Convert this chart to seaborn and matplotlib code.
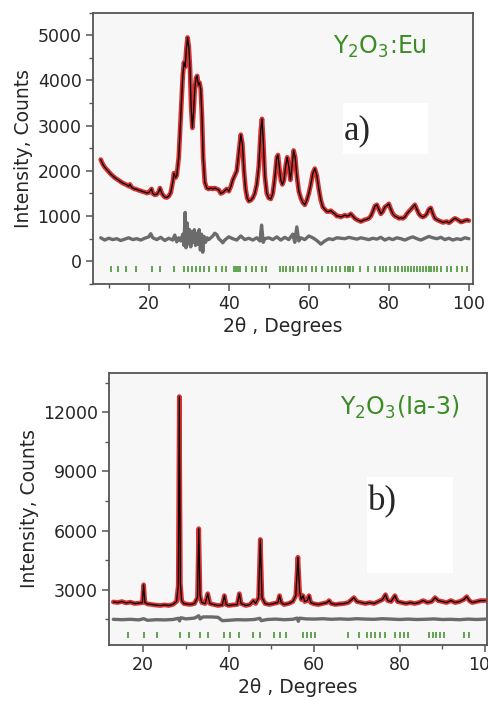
import numpy as np
import matplotlib
matplotlib.use("Agg")
import matplotlib.pyplot as plt
import seaborn as sns
from matplotlib.patches import Rectangle
from matplotlib.ticker import MultipleLocator

# panel a) Y2O3:Eu  - observed / calculated profile (read off the picture)
a_tth = [8.0, 8.5, 9.0, 9.5, 10.0, 10.5, 11.0, 11.5, 12.0, 12.5, 13.0, 13.5, 14.0, 14.5,
         15.0, 15.3, 15.7, 16.0, 16.5, 17.0, 17.5, 18.0, 18.5, 19.0, 19.5, 20.0, 20.7, 21.0,
         21.5, 22.0, 22.5, 22.8, 23.2, 23.5, 24.0, 24.5, 25.0, 25.5, 26.0, 26.3, 26.7, 27.0,
         27.5, 28.0, 28.5, 28.8, 29.1, 29.4, 29.7, 30.0, 30.3, 30.6, 30.9, 31.2, 31.5, 31.8,
         32.1, 32.4, 32.7, 33.0, 33.3, 33.6, 34.0, 34.5, 35.0, 35.5, 36.0, 36.5, 37.0, 37.5,
         38.0, 38.5, 39.0, 39.5, 40.0, 40.5, 41.0, 41.5, 42.0, 42.5, 43.0, 43.4, 43.8, 44.2,
         44.6, 45.0, 45.5, 46.0, 46.5, 47.0, 47.5, 48.0, 48.3, 48.6, 49.0, 49.5, 50.0, 50.5,
         51.0, 51.5, 52.0, 52.3, 52.6, 53.0, 53.4, 53.8, 54.2, 54.6, 55.0, 55.4, 55.8, 56.2,
         56.6, 57.0, 57.5, 58.0, 58.5, 59.0, 59.5, 60.0, 60.5, 61.0, 61.5, 62.0, 62.5, 63.0,
         63.5, 64.0, 64.5, 65.0, 65.5, 66.0, 66.5, 67.0, 67.5, 68.0, 68.5, 69.0, 69.5, 70.0,
         70.5, 71.0, 71.5, 72.0, 72.5, 73.0, 73.5, 74.0, 74.5, 75.0, 75.5, 76.0, 76.5, 77.0,
         77.5, 78.0, 78.5, 79.0, 79.5, 80.0, 80.5, 81.0, 81.5, 82.0, 82.5, 83.0, 83.5, 84.0,
         84.5, 85.0, 85.5, 86.0, 86.5, 87.0, 87.5, 88.0, 88.5, 89.0, 89.5, 90.0, 90.5, 91.0,
         91.5, 92.0, 92.5, 93.0, 93.5, 94.0, 94.5, 95.0, 95.5, 96.0, 96.5, 97.0, 97.5, 98.0,
         98.5, 99.0, 99.5, 100.0]
a_int = [2250, 2150, 2080, 2030, 1980, 1930, 1890, 1850, 1820, 1790, 1760, 1730, 1710, 1690,
         1660, 1700, 1640, 1620, 1600, 1590, 1570, 1560, 1540, 1530, 1510, 1520, 1600, 1500,
         1470, 1480, 1540, 1620, 1520, 1470, 1420, 1410, 1440, 1520, 1750, 1950, 1850, 1900,
         2300, 3200, 4100, 4400, 4300, 4700, 4950, 4750, 4300, 3400, 2950, 3300, 3800, 4050,
         4100, 3900, 3950, 3800, 3200, 2300, 1750, 1620, 1600, 1620, 1600, 1620, 1600, 1580,
         1500, 1520, 1560, 1600, 1550, 1650, 1800, 1900, 2000, 2400, 2800, 2600, 2000, 1600,
         1400, 1330, 1350, 1400, 1500, 1700, 2100, 2900, 3150, 2700, 1900, 1500, 1400, 1380,
         1500, 1850, 2300, 2350, 2100, 1800, 1700, 1800, 2100, 2300, 2100, 1800, 2100, 2450,
         2300, 1900, 1550, 1400, 1300, 1250, 1350, 1500, 1700, 1950, 2050, 1900, 1600, 1350,
         1200, 1150, 1100, 1100, 1120, 1080, 1050, 1000, 1000, 980, 1000, 1020, 1000, 1010,
         1050, 1000, 950, 920, 900, 880, 900, 920, 930, 950, 1000, 1100, 1220, 1250,
         1150, 1050, 1100, 1200, 1230, 1270, 1150, 1050, 1000, 980, 950, 960, 950, 980,
         1050, 1100, 1150, 1200, 1250, 1150, 1050, 1000, 980, 1000, 1050, 1150, 1180, 1050,
         950, 920, 900, 880, 860, 870, 880, 850, 880, 920, 950, 930, 900, 870,
         880, 900, 910, 900]

# panel a) difference curve
a_dif_tth = [8, 9, 10, 11, 12, 13, 14, 15, 16, 17, 18, 19, 20, 20.5, 21, 22, 23, 24, 25, 26,
             26.5, 27, 27.5, 28, 28.5, 28.8, 29.1, 29.3, 29.6, 29.9, 30.2, 30.5, 30.8, 31.1,
             31.4, 31.7, 32.0, 32.3, 32.6, 32.9, 33.2, 33.5, 33.8, 34.2, 34.6, 35, 36, 36.5,
             37, 37.5, 38, 38.5, 39, 40, 41, 42, 43, 44, 45, 46, 47, 47.8, 48.2, 48.6, 49,
             50, 51, 52, 53, 54, 55, 56, 56.5, 57, 57.5, 58, 59, 60, 61, 62, 63, 64, 65, 66,
             67, 68, 69, 70, 71, 72, 73, 74, 75, 76, 77, 78, 79, 80, 81, 82, 83, 84, 85, 86,
             87, 88, 89, 90, 91, 92, 93, 94, 95, 96, 97, 98, 99, 100]
a_dif = [520, 470, 510, 480, 500, 460, 490, 520, 480, 500, 470, 510, 540, 610, 520, 480, 530,
         460, 510, 470, 580, 430, 520, 450, 600, 350, 1080, 300, 850, 380, 700, 320, 650, 420,
         700, 350, 620, 380, 700, 250, 600, 200, 550, 420, 520, 480, 560, 620, 590, 500, 460,
         410, 470, 540, 500, 470, 560, 480, 510, 470, 520, 450, 800, 420, 500, 520, 480, 540,
         470, 530, 480, 600, 420, 760, 450, 520, 480, 560, 520, 460, 380, 450, 500, 480, 520,
         510, 500, 530, 510, 490, 520, 500, 480, 510, 490, 530, 470, 510, 480, 520, 500, 470,
         510, 540, 500, 470, 510, 550, 520, 500, 530, 480, 510, 470, 500, 480, 520, 500]

# panel a) Bragg reflection positions
a_bragg = [10.5, 12.3, 14.25, 16.9, 20.9, 22.9, 26.3, 28.75, 29.8, 30.7, 31.9, 32.75, 33.75,
           35.1, 36.75, 38.2, 39.4, 41.3, 41.9, 42.3, 42.75, 44.4, 45.7, 46.9, 48.2, 49.4,
           52.75, 53.6, 54.4, 55.25, 56.1, 57.3, 58.2, 59.4, 60.7, 61.9, 63.2, 64.8, 65.7,
           66.9, 67.75, 69.0, 69.8, 70.25, 71.1, 72.75, 74.8, 76.5, 77.75, 78.6, 79.4, 80.25,
           81.5, 82.3, 83.2, 84.0, 84.8, 85.6, 86.4, 87.1, 87.9, 88.5, 89.2, 90.0, 90.5, 91.2,
           92.0, 93.1, 94.5, 95.6, 97.0, 98.3, 99.6]

# panel b) Y2O3 (Ia-3)
b_tth = [13, 14, 15, 16, 17, 18, 19, 19.8, 20.1, 20.4, 21, 22, 23, 24, 25, 26, 27, 27.8, 28.2,
         28.45, 28.7, 29.0, 29.5, 30, 31, 32, 32.7, 33.0, 33.3, 33.7, 34.5, 35.1, 35.6, 36.5,
         37.5, 38.5, 39.0, 39.4, 40, 41, 42, 42.5, 42.9, 44, 45, 45.8, 46.3, 47.0, 47.4, 47.8,
         48.5, 49.5, 50.5, 51.5, 51.9, 52.3, 53, 54, 55, 55.7, 56.2, 56.6, 57.0, 57.4, 57.8,
         58.4, 58.8, 59.2, 60, 61, 62, 63, 63.5, 64, 65, 66, 67, 68, 69.3, 70, 71, 72, 73, 74,
         75, 76, 76.7, 77.2, 78, 78.9, 79.5, 80.5, 81.5, 82.5, 83.5, 84.5, 85.5, 86.5, 87.5,
         88.3, 89, 90, 91, 92, 93, 94, 95, 95.7, 96.3, 97, 98, 99, 100]
b_int = [2380, 2350, 2400, 2330, 2370, 2300, 2320, 2350, 3250, 2350, 2280, 2250, 2220, 2200,
         2230, 2200, 2260, 2400, 3200, 12800, 3300, 2450, 2300, 2280, 2250, 2300, 2600, 6100,
         2700, 2350, 2300, 2800, 2300, 2250, 2200, 2230, 2700, 2250, 2200, 2230, 2250, 2800,
         2300, 2200, 2250, 2450, 2300, 2600, 5550, 2600, 2300, 2250, 2300, 2350, 2700, 2350,
         2250, 2300, 2400, 2700, 4650, 2900, 2500, 2700, 2400, 2450, 2700, 2350, 2280, 2250,
         2300, 2350, 2450, 2300, 2250, 2280, 2300, 2350, 2600, 2400, 2350, 2300, 2350, 2300,
         2400, 2500, 2750, 2450, 2400, 2700, 2400, 2350, 2300, 2350, 2300, 2350, 2450, 2350,
         2400, 2600, 2450, 2400, 2350, 2450, 2350, 2400, 2500, 2650, 2450, 2350, 2400, 2450,
         2450]

b_dif_tth = [13, 15, 17, 19, 20.1, 21, 23, 25, 27, 28.2, 28.5, 28.8, 30, 32, 33, 33.3, 34, 36,
             37.5, 38.5, 40, 42, 44, 46, 47.3, 47.6, 49, 51, 53, 55, 56, 56.3, 56.6, 58, 60,
             62, 64, 66, 68, 70, 72, 74, 76, 78, 80, 82, 84, 86, 88, 90, 92, 94, 96, 98, 100]
b_dif = [1500, 1480, 1500, 1470, 1530, 1450, 1480, 1470, 1490, 1550, 1420, 1580, 1520, 1560,
         1680, 1520, 1620, 1620, 1600, 1430, 1450, 1480, 1470, 1490, 1550, 1430, 1490, 1510,
         1480, 1500, 1560, 1400, 1560, 1520, 1510, 1530, 1500, 1520, 1500, 1530, 1510, 1500,
         1530, 1510, 1490, 1510, 1490, 1500, 1520, 1490, 1500, 1480, 1510, 1490, 1510]

b_bragg = [16.4, 20.26, 23.2, 28.5, 30.7, 33.2, 35.1, 38.95, 40.35, 42.45, 45.65, 47.4, 50.5,
           51.9, 53.4, 57.3, 58.3, 59.2, 60.2, 68.0, 70.6, 72.3, 73.2, 74.2, 75.4, 76.6, 78.9,
           80.1, 81.0, 82.0, 86.9, 87.9, 88.6, 89.4, 90.35, 95.1, 96.3]

sns.set_theme(style="ticks")
plt.rcParams["font.family"] = ["DejaVu Sans"]
plt.rcParams["axes.linewidth"] = 1.3
plt.rcParams["axes.edgecolor"] = "#555555"

green = "#3c8c26"
fig = plt.figure(figsize=(4.88, 7.01), dpi=100)
ax1 = fig.add_axes([0.190, 0.595, 0.779, 0.387])
ax2 = fig.add_axes([0.2234, 0.080, 0.775, 0.388])


def draw_panel(ax, tth, inten, dtth, dif, bragg, bragg_lo, bragg_hi):
    ax.set_facecolor("#f7f7f7")
    # observed (red band) + calculated (black)
    sns.lineplot(x=tth, y=inten, ax=ax, color="#d01010", lw=3.4, alpha=0.85,
                 sort=False, estimator=None, zorder=3)
    sns.lineplot(x=tth, y=inten, ax=ax, color="black", lw=0.9,
                 sort=False, estimator=None, zorder=4)
    sns.lineplot(x=dtth, y=dif, ax=ax, color="#6b6b6b", lw=2.4,
                 sort=False, estimator=None, zorder=3)
    ax.vlines(bragg, bragg_lo, bragg_hi, color=green, lw=1.1, zorder=3)
    ax.tick_params(which="major", direction="out", length=5, width=1.1,
                   color="#555555", labelsize=12.5, pad=3)
    ax.tick_params(which="minor", direction="out", length=3, width=1.0, color="#555555")
    ax.set_ylabel("Intensity, Counts", fontsize=13.5, labelpad=3)
    ax.set_xlabel("2θ , Degrees", fontsize=13.5, labelpad=3)


draw_panel(ax1, a_tth, a_int, a_dif_tth, a_dif, a_bragg, -245, -115)
ax1.set_xlim(6, 101)
ax1.set_ylim(-500, 5500)
ax1.xaxis.set_major_locator(MultipleLocator(20))
ax1.xaxis.set_minor_locator(MultipleLocator(10))
ax1.yaxis.set_major_locator(MultipleLocator(1000))
ax1.yaxis.set_minor_locator(MultipleLocator(500))
ax1.text(0.632, 0.874, "Y$_2$O$_3$:Eu", transform=ax1.transAxes, color=green,
         fontsize=17, va="center", ha="left")
ax1.add_patch(Rectangle((0.658, 0.479), 0.224, 0.188, transform=ax1.transAxes,
                        facecolor="white", edgecolor="none", zorder=2))
ax1.text(0.660, 0.565, "a)", transform=ax1.transAxes, fontsize=25,
         family="Liberation Serif", va="center", ha="left", zorder=5)

draw_panel(ax2, b_tth, b_int, b_dif_tth, b_dif, b_bragg, 560, 870)
ax2.set_xlim(12, 100.5)
ax2.set_ylim(200, 14000)
ax2.xaxis.set_major_locator(MultipleLocator(20))
ax2.xaxis.set_minor_locator(MultipleLocator(10))
ax2.yaxis.set_major_locator(MultipleLocator(3000))
ax2.yaxis.set_minor_locator(MultipleLocator(1500))
ax2.set_yticks([3000, 6000, 9000, 12000])
ax2.text(0.611, 0.875, "Y$_2$O$_3$(Ia-3)", transform=ax2.transAxes, color=green,
         fontsize=17, va="center", ha="left")
ax2.add_patch(Rectangle((0.683, 0.265), 0.227, 0.353, transform=ax2.transAxes,
                        facecolor="white", edgecolor="none", zorder=2))
ax2.text(0.685, 0.526, "b)", transform=ax2.transAxes, fontsize=25,
         family="Liberation Serif", va="center", ha="left", zorder=5)

fig.savefig("out.png", dpi=100)
